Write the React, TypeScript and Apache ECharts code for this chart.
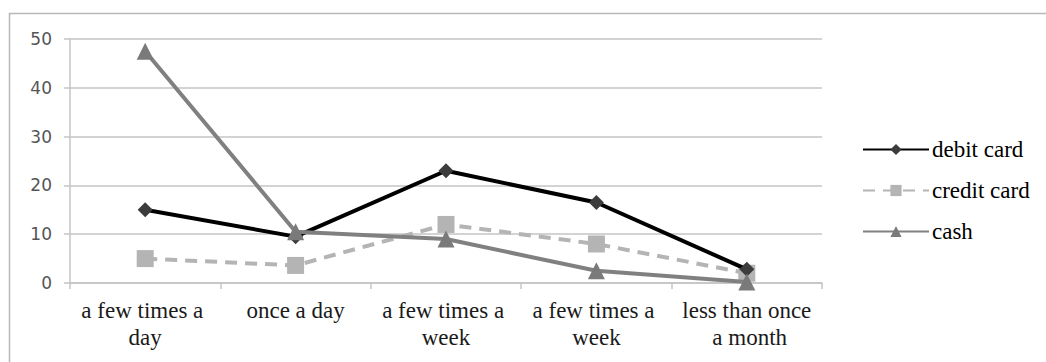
import React, { useEffect, useRef } from "react";
import * as echarts from "echarts";

const categories = [
  "a few times a day",
  "once a day",
  "a few times a week",
  "a few times a week",
  "less than once a month",
];
const debitCard = [15, 9.5, 23, 16.5, 2.8];
const creditCard = [5, 3.6, 12, 8, 2];
const cash = [47.5, 10.5, 9, 2.5, 0.2];
const yTicks = [0, 10, 20, 30, 40, 50];

export default function App() {
  const ref = useRef<HTMLDivElement>(null);
  useEffect(() => {
    if (!ref.current) return;
    const chart = echarts.init(ref.current, null, { renderer: "svg" });
    const serif = "Liberation Serif, serif";
    chart.setOption({
      animation: false,
      backgroundColor: "#ffffff",
      graphic: [
        {
          type: "rect",
          shape: { x: 9.5, y: 13.5, width: 1100, height: 400 },
          style: { fill: "none", stroke: "#b8b8b8", lineWidth: 1.5 },
          silent: true,
        },
      ],
      grid: { left: 70, right: 224, top: 39, bottom: 79, containLabel: false },
      legend: {
        orient: "vertical",
        left: 857,
        top: 133,
        itemWidth: 66,
        itemHeight: 14,
        itemGap: 18,
        textStyle: { fontFamily: serif, fontSize: 23, color: "#000", padding: [0, 0, 0, -2] },
        data: ["debit card", "credit card", "cash"],
      },
      xAxis: {
        type: "category",
        data: categories,
        boundaryGap: true,
        axisLine: { show: true, lineStyle: { color: "#c4c4c4", width: 1.5 } },
        axisTick: { show: true, length: 6, lineStyle: { color: "#c4c4c4", width: 1.5 } },
        axisLabel: {
          interval: 0,
          fontFamily: serif,
          fontSize: 23,
          color: "#1a1a1a",
          width: 134,
          overflow: "break",
          lineHeight: 27,
          margin: 14,
        },
      },
      yAxis: {
        type: "value",
        min: 0,
        max: 50,
        interval: 10,
        axisLine: { show: true, lineStyle: { color: "#c4c4c4", width: 1.5 } },
        axisTick: { show: true, length: 6, lineStyle: { color: "#c4c4c4", width: 1.5 } },
        splitLine: { show: true, lineStyle: { color: "#c4c4c4", width: 1.5 } },
        axisLabel: {
          fontFamily: "DejaVu Sans",
          fontSize: 17,
          color: "#555555",
          margin: 18,
          formatter: (v: number) => (yTicks.includes(v) ? String(v) : ""),
        },
      },
      series: [
        {
          name: "debit card",
          type: "line",
          data: debitCard,
          symbol: "diamond",
          symbolSize: 15,
          lineStyle: { color: "#000000", width: 4 },
          itemStyle: { color: "#3c3c3c" },
          z: 3,
        },
        {
          name: "credit card",
          type: "line",
          data: creditCard,
          symbol: "rect",
          symbolSize: 17,
          lineStyle: { color: "#b4b4b4", width: 4, type: [12, 8] },
          itemStyle: { color: "#b4b4b4" },
          z: 2,
        },
        {
          name: "cash",
          type: "line",
          data: cash,
          symbol: "triangle",
          symbolSize: 17,
          lineStyle: { color: "#808080", width: 4 },
          itemStyle: { color: "#7a7a7a" },
          z: 4,
        },
      ],
    });
    return () => chart.dispose();
  }, []);
  return (
    <div
      ref={ref}
      style={{ position: "fixed", left: 0, top: 0, width: 1046, height: 362 }}
    />
  );
}
